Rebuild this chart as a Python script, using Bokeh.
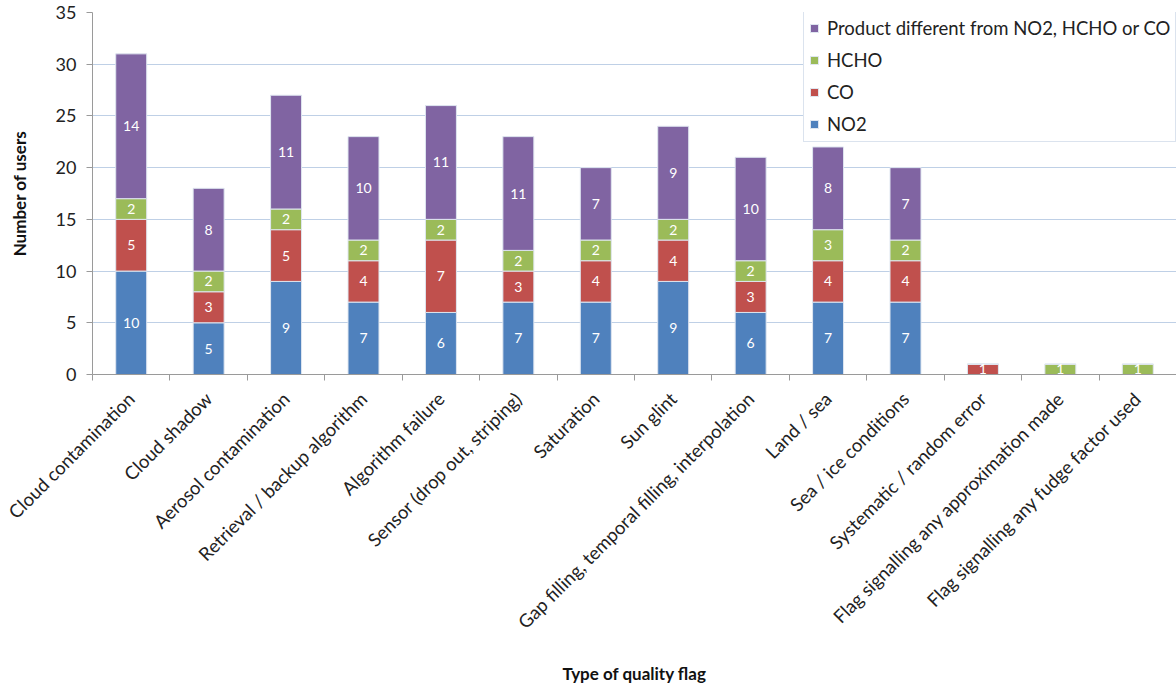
import math
from bokeh.plotting import figure
from bokeh.models import (ColumnDataSource, Range1d, FixedTicker, Legend, LegendItem,
                          BoxAnnotation)
from bokeh.core.properties import value
from bokeh.embed import file_html
from bokeh.resources import INLINE

categories = [
    "Cloud contamination", "Cloud shadow", "Aerosol contamination",
    "Retrieval / backup algorithm", "Algorithm failure",
    "Sensor (drop out, striping)", "Saturation", "Sun glint",
    "Gap filling, temporal filling, interpolation", "Land / sea",
    "Sea / ice conditions", "Systematic / random error",
    "Flag signalling any approximation made",
    "Flag signalling any fudge factor used",
]
no2 = [10, 5, 9, 7, 6, 7, 7, 9, 6, 7, 7, 0, 0, 0]
co = [5, 3, 5, 4, 7, 3, 4, 4, 3, 4, 4, 1, 0, 0]
hcho = [2, 2, 2, 2, 2, 2, 2, 2, 2, 3, 2, 0, 1, 1]
other = [14, 8, 11, 10, 11, 11, 7, 9, 10, 8, 7, 0, 0, 0]
series_names = ["NO2", "CO", "HCHO", "Product different from NO2, HCHO or CO"]
series_colors = ["#4F81BD", "#C0504D", "#9BBB59", "#8064A2"]
y_ticks = [0, 5, 10, 15, 20, 25, 30, 35]
x_title = "Type of quality flag"
y_title = "Number of users"

FONT = "Lato"
n = len(categories)
xs = [i + 0.5 for i in range(n)]
keys = ["s0", "s1", "s2", "s3"]
series = [no2, co, hcho, other]
src = ColumnDataSource(dict(x=xs, **{k: v for k, v in zip(keys, series)}))

p = figure(width=1176, height=691, x_range=Range1d(0, n), y_range=Range1d(0, 35),
           output_backend="svg", toolbar_location=None,
           min_border_left=92, min_border_right=0, min_border_top=12,
           min_border_bottom=317)
p.outline_line_color = None
p.background_fill_color = "white"
p.border_fill_color = "white"

# faint grey band at the bottom of the picture
p.add_layout(BoxAnnotation(left=0, right=1176, top=655, bottom=680,
                           left_units="screen", right_units="screen",
                           top_units="screen", bottom_units="screen",
                           fill_color="#f8f8f8", fill_alpha=1, line_color=None,
                           level="underlay", propagate_hover=False))
p.add_layout(BoxAnnotation(left=0, right=1176, top=680, bottom=691,
                           left_units="screen", right_units="screen",
                           top_units="screen", bottom_units="screen",
                           fill_color="#f0f0f0", fill_alpha=1, line_color=None,
                           level="underlay"))

rs = p.vbar_stack(keys, x="x", width=0.4, color=series_colors, source=src,
                  line_color="#dfe6f0", line_width=1)

# data labels
lx, ly, lt = [], [], []
for i in range(n):
    base = 0
    for s in series:
        v = s[i]
        if v:
            lx.append(xs[i]); ly.append(base + v / 2); lt.append(str(v))
        base += v
p.text(x=lx, y=ly, text=lt, text_align="center", text_baseline="middle",
       text_color="white", text_font=value(FONT), text_font_size="14px")

# y axis
p.yaxis.ticker = FixedTicker(ticks=y_ticks)
p.yaxis.axis_line_color = "#9a9a9a"
p.yaxis.major_tick_line_color = "#9a9a9a"
p.yaxis.major_tick_out = 6
p.yaxis.major_tick_in = 0
p.yaxis.minor_tick_line_color = None
p.yaxis.major_label_text_font = FONT
p.yaxis.major_label_text_font_size = "18px"
p.yaxis.major_label_text_color = "#222222"
p.yaxis.major_label_standoff = 10
p.yaxis.axis_label = y_title
p.yaxis.axis_label_text_font = FONT
p.yaxis.axis_label_text_font_size = "17px"
p.yaxis.axis_label_text_font_style = "bold"
p.yaxis.axis_label_text_color = "#111111"
p.yaxis.axis_label_standoff = 23

# x axis: labels at centres, ticks between categories
p.xaxis.ticker = FixedTicker(ticks=xs, minor_ticks=list(range(n + 1)))
p.xaxis.major_label_overrides = {x: c for x, c in zip(xs, categories)}
p.xaxis.major_label_orientation = math.pi / 4
p.xaxis.major_tick_line_color = None
p.xaxis.major_tick_out = 0
p.xaxis.major_tick_in = 0
p.xaxis.minor_tick_line_color = "#9a9a9a"
p.xaxis.minor_tick_out = 6
p.xaxis.minor_tick_in = 0
p.xaxis.axis_line_color = "#9a9a9a"
p.xaxis.major_label_text_font = FONT
p.xaxis.major_label_text_font_size = "18.5px"
p.xaxis.major_label_text_color = "#222222"
p.xaxis.major_label_standoff = 15
p.xaxis.axis_label = x_title
p.xaxis.axis_label_text_font = FONT
p.xaxis.axis_label_text_font_size = "17px"
p.xaxis.axis_label_text_font_style = "bold"
p.xaxis.axis_label_text_color = "#111111"
p.xaxis.axis_label_standoff = 19

p.xgrid.grid_line_color = None
p.ygrid.ticker = FixedTicker(ticks=y_ticks)
p.ygrid.grid_line_color = "#bfd0e6"
p.ygrid.grid_line_width = 1

items = [LegendItem(label=series_names[k], renderers=[rs[k]]) for k in (3, 2, 1, 0)]
legend = Legend(items=items, location=(711, 232))
legend.label_text_font = FONT
legend.label_text_font_size = "18.5px"
legend.label_text_color = "#222222"
legend.glyph_width = 10
legend.glyph_height = 10
legend.label_height = 24
legend.label_standoff = 8
legend.spacing = 8
legend.padding = 5
legend.margin = 0
legend.border_line_color = "#b7c8de"
legend.border_line_width = 1
legend.background_fill_color = "white"
legend.background_fill_alpha = 1
p.add_layout(legend)

open("out.html", "w").write(file_html(p, INLINE))
